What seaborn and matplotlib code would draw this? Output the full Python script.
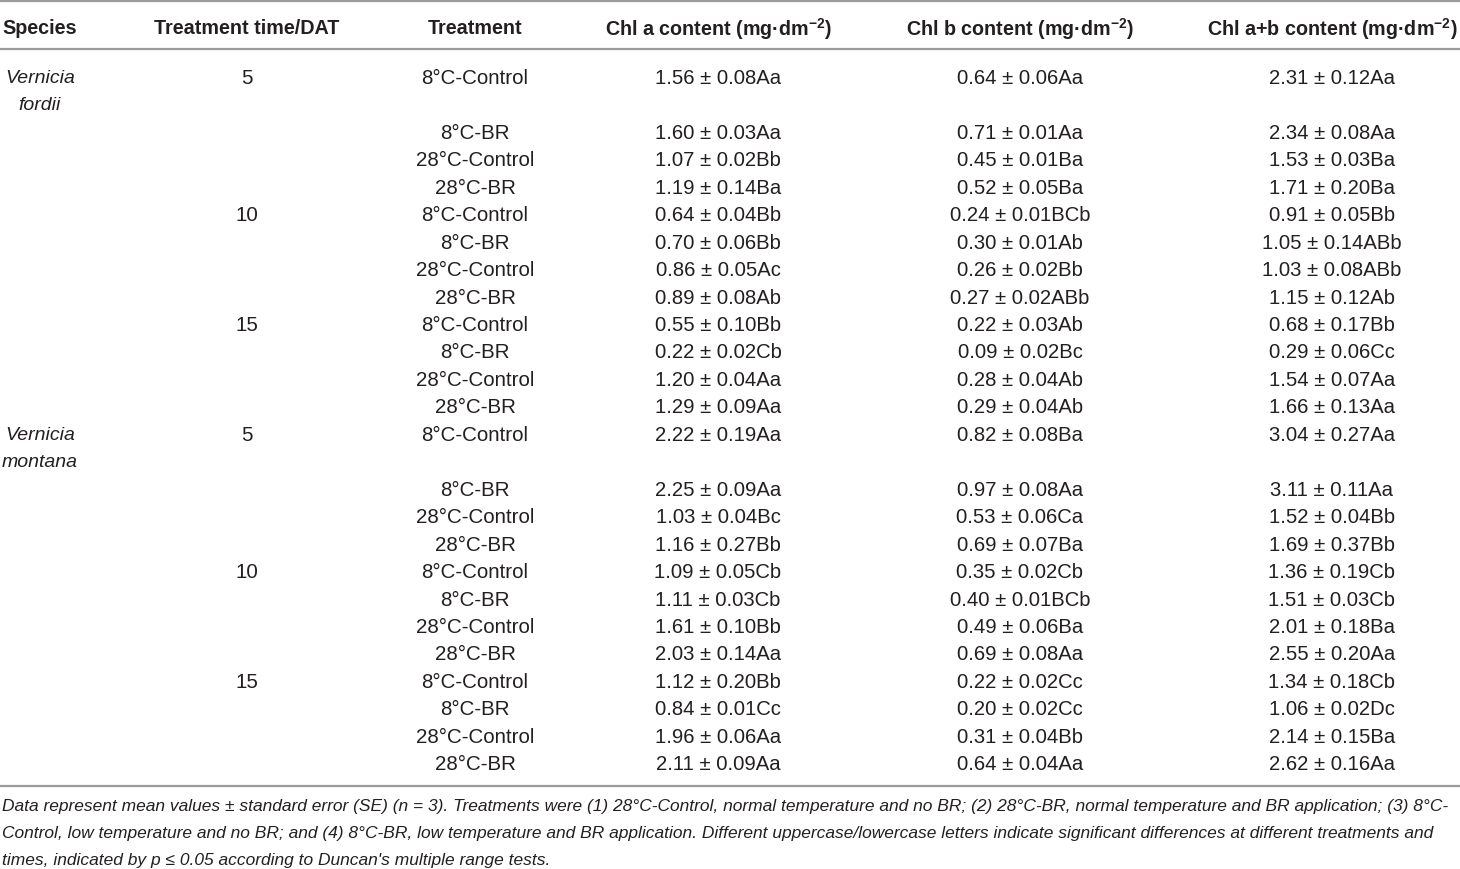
import matplotlib
matplotlib.use("Agg")
import matplotlib.pyplot as plt
import seaborn as sns
import pandas as pd

# table contents
species = ["Vernicia fordii", "Vernicia montana"]
times = [5, 10, 15]
treatments = ["8°C-Control", "8°C-BR", "28°C-Control", "28°C-BR"]

chl_a_mean = [1.56, 1.60, 1.07, 1.19, 0.64, 0.70, 0.86, 0.89, 0.55, 0.22, 1.20, 1.29,
              2.22, 2.25, 1.03, 1.16, 1.09, 1.11, 1.61, 2.03, 1.12, 0.84, 1.96, 2.11]
chl_a_se = [0.08, 0.03, 0.02, 0.14, 0.04, 0.06, 0.05, 0.08, 0.10, 0.02, 0.04, 0.09,
            0.19, 0.09, 0.04, 0.27, 0.05, 0.03, 0.10, 0.14, 0.20, 0.01, 0.06, 0.09]
chl_a_sig = ["Aa", "Aa", "Bb", "Ba", "Bb", "Bb", "Ac", "Ab", "Bb", "Cb", "Aa", "Aa",
             "Aa", "Aa", "Bc", "Bb", "Cb", "Cb", "Bb", "Aa", "Bb", "Cc", "Aa", "Aa"]

chl_b_mean = [0.64, 0.71, 0.45, 0.52, 0.24, 0.30, 0.26, 0.27, 0.22, 0.09, 0.28, 0.29,
              0.82, 0.97, 0.53, 0.69, 0.35, 0.40, 0.49, 0.69, 0.22, 0.20, 0.31, 0.64]
chl_b_se = [0.06, 0.01, 0.01, 0.05, 0.01, 0.01, 0.02, 0.02, 0.03, 0.02, 0.04, 0.04,
            0.08, 0.08, 0.06, 0.07, 0.02, 0.01, 0.06, 0.08, 0.02, 0.02, 0.04, 0.04]
chl_b_sig = ["Aa", "Aa", "Ba", "Ba", "BCb", "Ab", "Bb", "ABb", "Ab", "Bc", "Ab", "Ab",
             "Ba", "Aa", "Ca", "Ba", "Cb", "BCb", "Ba", "Aa", "Cc", "Cc", "Bb", "Aa"]

chl_ab_mean = [2.31, 2.34, 1.53, 1.71, 0.91, 1.05, 1.03, 1.15, 0.68, 0.29, 1.54, 1.66,
               3.04, 3.11, 1.52, 1.69, 1.36, 1.51, 2.01, 2.55, 1.34, 1.06, 2.14, 2.62]
chl_ab_se = [0.12, 0.08, 0.03, 0.20, 0.05, 0.14, 0.08, 0.12, 0.17, 0.06, 0.07, 0.13,
             0.27, 0.11, 0.04, 0.37, 0.19, 0.03, 0.18, 0.20, 0.18, 0.02, 0.15, 0.16]
chl_ab_sig = ["Aa", "Aa", "Ba", "Ba", "Bb", "ABb", "ABb", "Ab", "Bb", "Cc", "Aa", "Aa",
              "Aa", "Aa", "Bb", "Bb", "Cb", "Cb", "Ba", "Aa", "Cb", "Dc", "Ba", "Aa"]

headers = ["Species", "Treatment time/DAT", "Treatment",
           r"Chl a content (mg·dm$^{\mathbf{-2}}$)",
           r"Chl b content (mg·dm$^{\mathbf{-2}}$)",
           r"Chl a+b content (mg·dm$^{\mathbf{-2}}$)"]

footnote = [
    "Data represent mean values ± standard error (SE) (n = 3). Treatments were (1) 28°C-Control, "
    "normal temperature and no BR; (2) 28°C-BR, normal temperature and BR application; (3) 8°C-",
    "Control, low temperature and no BR; and (4) 8°C-BR, low temperature and BR application. "
    "Different uppercase/lowercase letters indicate significant differences at different treatments and",
    "times, indicated by p ≤ 0.05 according to Duncan's multiple range tests.",
]

rows = []
for s in species:
    for t in times:
        for tr in treatments:
            rows.append({"species": s, "time": t, "treatment": tr})
df = pd.DataFrame(rows)
df["chl_a"] = [f"{m:.2f} ± {e:.2f}{g}" for m, e, g in zip(chl_a_mean, chl_a_se, chl_a_sig)]
df["chl_b"] = [f"{m:.2f} ± {e:.2f}{g}" for m, e, g in zip(chl_b_mean, chl_b_se, chl_b_sig)]
df["chl_ab"] = [f"{m:.2f} ± {e:.2f}{g}" for m, e, g in zip(chl_ab_mean, chl_ab_se, chl_ab_sig)]

sns.set_theme(style="white")
plt.rcParams["font.family"] = ["Liberation Sans", "DejaVu Sans"]
plt.rcParams["mathtext.fontset"] = "custom"
plt.rcParams["mathtext.rm"] = "Liberation Sans"
plt.rcParams["mathtext.bf"] = "Liberation Sans:bold"

fig = plt.figure(figsize=(14.6, 8.7), dpi=100)
ax = fig.add_axes([0, 0, 1, 1])
ax.set_xlim(0, 1460)
ax.set_ylim(870, 0)
ax.axis("off")

col_x = [2, 247, 475, 718, 1020, 1332]
header_y = 29
row_y0 = 78.5
pitch = 27.45
line_col = "#9b9b9b"
txt_col = "#231f20"

for x, h in zip(col_x, headers):
    ax.text(x, header_y, h, ha="left" if x == col_x[0] else "center", va="center",
            fontsize=14.2, fontweight="bold", color=txt_col)

for y in [2, 50, 787]:
    ax.axhline(y, color=line_col, lw=1.6)

body_fs = 14.8
num_fs = 14.6
# each species block takes an extra slot for the wrapped species name
for si, (name, grp) in enumerate(df.groupby("species", sort=False)):
    offset = si * 13
    genus, epithet = name.split()
    ax.text(40, row_y0 + offset * pitch, genus, ha="center", va="center",
            fontsize=14, style="italic", color=txt_col)
    ax.text(40, row_y0 + (offset + 1) * pitch, epithet, ha="center", va="center",
            fontsize=14, style="italic", color=txt_col)
    prev_t = None
    for i, r in enumerate(grp.itertuples()):
        slot = offset + (0 if i == 0 else i + 1)
        y = row_y0 + slot * pitch
        if r.time != prev_t:
            ax.text(col_x[1], y, str(r.time), ha="center", va="center",
                    fontsize=body_fs, color=txt_col)
            prev_t = r.time
        ax.text(col_x[2], y, r.treatment, ha="center", va="center",
                fontsize=body_fs, color=txt_col)
        for x, val in zip(col_x[3:], [r.chl_a, r.chl_b, r.chl_ab]):
            ax.text(x, y, val, ha="center", va="center", fontsize=num_fs, color=txt_col)

for k, line in enumerate(footnote):
    ax.text(2, 807 + k * 27, line, ha="left", va="center", fontsize=12.5,
            style="italic", color=txt_col)

fig.savefig("out.png", dpi=100)
plt.close(fig)
